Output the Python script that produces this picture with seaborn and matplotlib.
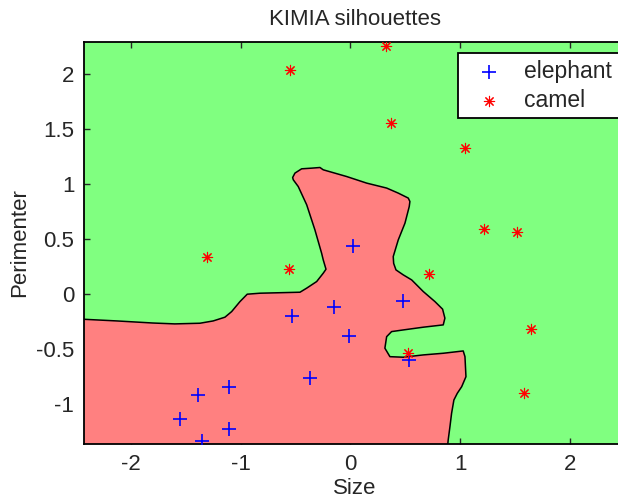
import numpy as np
import pandas as pd
import matplotlib
matplotlib.use("Agg")
import matplotlib.pyplot as plt
import seaborn as sns

# ---- data ----
elephant_size = [0.025, 0.481, -0.147, -0.535, -0.010, 0.538, -0.369, -1.104, -1.389, -1.554, -1.104, -1.355]
elephant_perim = [0.440, -0.061, -0.116, -0.200, -0.382, -0.598, -0.759, -0.846, -0.916, -1.135, -1.223, -1.338]

camel_size = [0.328, -0.547, 0.373, 1.042, 1.223, 1.520, -1.307, -0.560, 0.714, 1.645, 0.526, 1.580]
camel_perim = [2.259, 2.035, 1.561, 1.325, 0.597, 0.567, 0.339, 0.230, 0.188, -0.316, -0.531, -0.898]

# decision boundary (elephant region outline), from left edge to bottom edge
boundary_x = [-2.45, -2.13, -1.80, -1.60, -1.371, -1.25, -1.143, -1.082, -1.006, -0.940,
              -0.824, -0.459, -0.398, -0.307, -0.247, -0.222, -0.247, -0.262, -0.323, -0.398,
              -0.475, -0.520, -0.526, -0.505, -0.444, -0.353, -0.277, -0.247, -0.034, 0.149,
              0.331, 0.437, 0.528, 0.543, 0.537, 0.498, 0.437, 0.391, 0.395, 0.416,
              0.482, 0.559, 0.665, 0.771, 0.841, 0.862, 0.847, 0.665, 0.482, 0.376,
              0.331, 0.315, 0.361, 0.482, 0.665, 0.847, 1.029, 1.045, 1.054, 1.015,
              0.975, 0.944, 0.923, 0.908, 0.892, 0.885]
boundary_y = [-0.227, -0.243, -0.262, -0.270, -0.264, -0.243, -0.209, -0.158, -0.067, 0.000,
              0.009, 0.018, 0.055, 0.115, 0.191, 0.227, 0.312, 0.373, 0.585, 0.813,
              0.979, 1.040, 1.061, 1.101, 1.140, 1.146, 1.152, 1.131, 1.070, 1.010,
              0.965, 0.919, 0.874, 0.843, 0.797, 0.646, 0.494, 0.342, 0.280, 0.221,
              0.176, 0.130, 0.024, -0.067, -0.136, -0.218, -0.279, -0.300, -0.325, -0.340,
              -0.386, -0.491, -0.568, -0.573, -0.552, -0.537, -0.516, -0.568, -0.750, -0.841,
              -0.901, -0.962, -1.083, -1.205, -1.326, -1.400]

x_ticks = [-2, -1, 0, 1, 2]
x_tick_labels = ["-2", "-1", "0", "1", "2"]
y_ticks = [-1, -0.5, 0, 0.5, 1, 1.5, 2]
y_tick_labels = ["-1", "-0.5", "0", "0.5", "1", "1.5", "2"]

# ---- styling ----
sns.set_style("white")
plt.rcParams["font.family"] = ["Liberation Sans", "DejaVu Sans"]
plt.rcParams["axes.unicode_minus"] = False

GREEN = "#80FF80"
RED = "#FF8080"
FS = 16

fig = plt.figure(figsize=(6.18, 5.0), dpi=100)
ax = fig.add_axes([84 / 618, 56 / 500, (626 - 84) / 618, (444 - 42) / 500])
ax.set_facecolor(GREEN)

# elephant region
poly_x = boundary_x + [-2.45]
poly_y = boundary_y + [-1.40]
ax.fill(poly_x, poly_y, facecolor=RED, edgecolor="none", zorder=1)
ax.plot(boundary_x, boundary_y, color="black", lw=1.1, zorder=2)

df_e = pd.DataFrame({"Size": elephant_size, "Perimenter": elephant_perim})
df_c = pd.DataFrame({"Size": camel_size, "Perimenter": camel_perim})

sns.scatterplot(data=df_e, x="Size", y="Perimenter", marker="+", color="#0000FF",
                s=100, linewidth=1.2, ax=ax, label="elephant", zorder=3)
sns.scatterplot(data=df_c, x="Size", y="Perimenter", marker=(8, 2, 0), color="#FF0000",
                s=55, linewidth=0.8, ax=ax, label="camel", zorder=3)

ax.set_xlim(-2.428, 2.513)
ax.set_ylim(-1.362, 2.293)
ax.set_xticks(x_ticks)
ax.set_xticklabels(x_tick_labels)
ax.set_yticks(y_ticks)
ax.set_yticklabels(y_tick_labels)
ax.tick_params(axis="both", direction="in", length=4, width=1, color="0.15",
               labelsize=FS, pad=7, top=True, right=True, bottom=True, left=True)

for sp in ax.spines.values():
    sp.set_visible(True)
    sp.set_color("black")
    sp.set_linewidth(1.3)

ax.set_title("KIMIA silhouettes", fontsize=FS, pad=12)
ax.set_xlabel("Size", fontsize=FS, labelpad=2)
ax.set_ylabel("Perimenter", fontsize=FS, labelpad=4)

leg = ax.legend(loc="upper left", bbox_to_anchor=(0.69, 0.9726), fontsize=16.5,
                frameon=True, fancybox=False, framealpha=1, edgecolor="black",
                borderpad=0.3, handlelength=2.1, handletextpad=0.48, labelspacing=0.25,
                borderaxespad=0)
leg.get_frame().set_linewidth(1.3)

fig.savefig("out.png", dpi=100)
